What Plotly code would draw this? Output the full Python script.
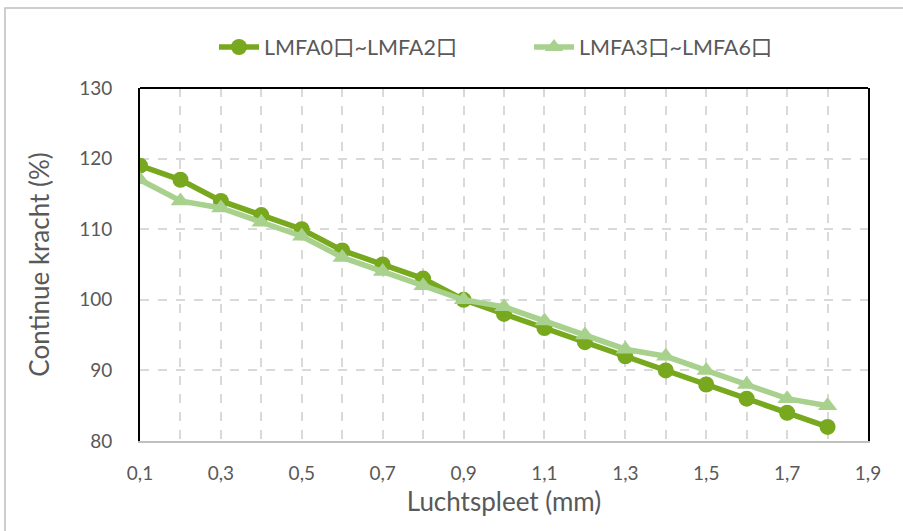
import plotly.graph_objects as go

x_vals = [0.1, 0.2, 0.3, 0.4, 0.5, 0.6, 0.7, 0.8, 0.9, 1.0, 1.1, 1.2, 1.3, 1.4, 1.5, 1.6, 1.7, 1.8]
series1_name = "LMFA0口~LMFA2口"
series1 = [119, 117, 114, 112, 110, 107, 105, 103, 100, 98, 96, 94, 92, 90, 88, 86, 84, 82]
series2_name = "LMFA3口~LMFA6口"
series2 = [117, 114, 113, 111, 109, 106, 104, 102, 100, 99, 97, 95, 93, 92, 90, 88, 86, 85]
x_ticks = [0.1, 0.3, 0.5, 0.7, 0.9, 1.1, 1.3, 1.5, 1.7, 1.9]
y_ticks = [80, 90, 100, 110, 120, 130]

font_family = "Lato, 'Noto Sans CJK SC', sans-serif"
grey = "#595959"

fig = go.Figure()
fig.add_trace(go.Scatter(x=x_vals, y=series1, name=series1_name, mode="lines+markers",
                         line=dict(color="#77A81E", width=5.5),
                         marker=dict(symbol="circle", size=16, color="#77A81E")))
fig.add_trace(go.Scatter(x=x_vals, y=series2, name=series2_name, mode="lines+markers",
                         line=dict(color="#A9D18E", width=5.5),
                         marker=dict(symbol="triangle-up", size=17, color="#A9D18E")))

L, R, T, B = 140, 35, 88, 90
W, H = 903, 531
pw, ph = W - L - R, H - T - B

fig.update_layout(
    width=W, height=H,
    margin=dict(l=L, r=R, t=T, b=B),
    paper_bgcolor="white", plot_bgcolor="white",
    separators=",.",
    font=dict(family=font_family, color=grey, size=19),
    legend=dict(orientation="h", x=(214 - L) / pw, xanchor="left", y=1 + (88 - 47) / ph, yanchor="middle",
                font=dict(size=21.5, color=grey), entrywidth=260, itemwidth=40),
    xaxis=dict(range=[0.1, 1.9], tickvals=x_ticks, tickformat=".1f",
               showgrid=True, gridcolor="#D9D9D9", griddash="dash", gridwidth=1.5,
               minor=dict(dtick=0.1, tick0=0.1, showgrid=True, gridcolor="#D9D9D9", griddash="dash", gridwidth=1.5),
               showline=True, linecolor="#BFBFBF", linewidth=2,
               ticks="", ticklabelstandoff=14, zeroline=False,
               title=dict(text="Luchtspleet (mm)", font=dict(size=26, color=grey), standoff=10),
               tickfont=dict(size=19, color=grey)),
    yaxis=dict(range=[80, 130], tickvals=y_ticks,
               showgrid=True, gridcolor="#D9D9D9", griddash="dash", gridwidth=1.5,
               showline=True, linecolor="black", linewidth=2, mirror=True,
               ticks="", ticklabelstandoff=22, zeroline=False,
               title=dict(text="Continue kracht (%)", font=dict(size=26, color=grey), standoff=22),
               tickfont=dict(size=19, color=grey)),
    shapes=[
        dict(type="line", xref="paper", yref="paper", x0=0, x1=1, y0=1, y1=1,
             line=dict(color="black", width=2)),
        dict(type="rect", xref="paper", yref="paper",
             x0=(5 - L) / pw, x1=(W + 20 - L) / pw,
             y0=-(H + 20 - (T + ph)) / ph, y1=(T + ph - 8) / ph,
             line=dict(color="#BFBFBF", width=1.5), layer="below"),
    ],
)

fig.write_html("out.html")
